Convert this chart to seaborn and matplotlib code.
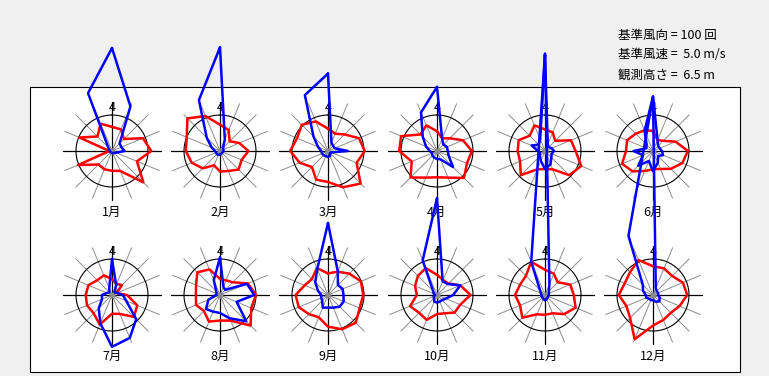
import numpy as np
import pandas as pd
import matplotlib
matplotlib.use("Agg")
import matplotlib.pyplot as plt
from matplotlib.patches import Rectangle
import seaborn as sns

sns.set_theme(style="white")
plt.rcParams["font.family"] = ["Noto Sans CJK JP", "DejaVu Sans"]

# ---- data ----
directions = ["N", "NNE", "NE", "ENE", "E", "ESE", "SE", "SSE",
              "S", "SSW", "SW", "WSW", "W", "WNW", "NW", "NNW"]
months = ["1月", "2月", "3月", "4月", "5月", "6月",
          "7月", "8月", "9月", "10月", "11月", "12月"]
ring_label = "4"
info_lines = ["基準風向 = 100 回", "基準風速 =  5.0 m/s", "観測高さ =  6.5 m"]

# red: wind speed (relative to reference circle), blue: frequency
speed_01 = [0.67, 0.65, 0.47, 0.93, 1.09, 0.75, 1.23, 0.60, 0.55, 0.55, 0.53, 1.02, 0.08, 0.98, 0.57, 0.82]
freq_01 = [2.86, 1.34, 0.30, 0.28, 0.35, 0.12, 0.08, 0.06, 0.06, 0.05, 0.05, 0.05, 0.06, 0.08, 0.15, 1.74]
speed_02 = [0.73, 0.63, 0.38, 0.58, 0.79, 0.65, 0.73, 0.60, 0.57, 0.43, 0.68, 0.85, 0.95, 1.00, 1.28, 1.05]
freq_02 = [2.88, 0.35, 0.12, 0.10, 0.10, 0.08, 0.08, 0.08, 0.10, 0.12, 0.12, 0.12, 0.14, 0.25, 0.52, 1.53]
speed_03 = [0.62, 0.52, 0.65, 0.93, 1.02, 0.86, 1.28, 1.09, 0.86, 0.86, 0.63, 0.85, 1.05, 0.93, 1.03, 0.89]
freq_03 = [2.15, 0.25, 0.20, 0.20, 0.55, 0.10, 0.08, 0.15, 0.17, 0.15, 0.17, 0.18, 0.19, 0.30, 0.57, 1.68]
speed_04 = [0.55, 0.38, 0.50, 0.78, 0.97, 0.90, 1.06, 0.80, 0.73, 0.80, 1.04, 0.76, 1.05, 1.08, 0.65, 0.77]
freq_04 = [1.78, 0.37, 0.25, 0.30, 0.30, 0.35, 0.63, 0.25, 0.22, 0.20, 0.18, 0.15, 0.20, 0.33, 0.56, 1.16]
speed_05 = [0.60, 0.56, 0.40, 0.78, 0.85, 1.09, 0.95, 0.55, 0.50, 0.55, 0.95, 0.75, 0.76, 0.79, 0.60, 0.77]
freq_05 = [2.67, 0.20, 0.15, 0.20, 0.25, 0.20, 0.25, 0.40, 0.50, 0.30, 0.20, 0.15, 0.20, 0.40, 0.25, 0.35]
speed_06 = [0.56, 0.33, 0.40, 0.68, 0.97, 0.88, 0.70, 0.54, 0.51, 0.60, 0.80, 0.93, 0.75, 0.78, 0.68, 0.62]
freq_06 = [1.51, 0.33, 0.20, 0.20, 0.25, 0.30, 0.20, 0.35, 0.56, 0.30, 0.58, 0.30, 0.54, 0.20, 0.25, 0.61]
speed_07 = [0.44, 0.33, 0.39, 0.14, 0.42, 0.76, 0.86, 0.57, 0.52, 0.89, 0.72, 0.75, 0.73, 0.71, 0.58, 0.59]
freq_07 = [1.00, 0.30, 0.10, 0.15, 0.30, 0.43, 0.95, 1.29, 1.44, 0.85, 0.52, 0.30, 0.28, 0.15, 0.10, 0.20]
speed_08 = [0.45, 0.44, 0.50, 0.84, 1.00, 0.94, 1.20, 0.77, 0.71, 0.80, 0.63, 0.72, 0.67, 0.72, 0.89, 0.77]
freq_08 = [1.04, 0.25, 0.20, 0.81, 0.95, 0.50, 1.03, 0.70, 0.50, 0.50, 0.55, 0.35, 0.11, 0.10, 0.15, 0.45]
speed_09 = [0.60, 0.70, 0.84, 0.99, 0.98, 0.95, 1.09, 1.03, 0.88, 0.67, 0.75, 0.88, 0.90, 0.70, 0.63, 0.81]
freq_09 = [2.00, 0.71, 0.39, 0.44, 0.43, 0.47, 0.46, 0.38, 0.35, 0.38, 0.23, 0.20, 0.19, 0.30, 0.50, 0.78]
speed_10 = [0.56, 0.45, 0.45, 0.70, 0.93, 0.70, 0.69, 0.55, 0.53, 0.75, 0.70, 0.81, 0.56, 0.66, 0.75, 0.81]
freq_10 = [2.69, 0.41, 0.43, 0.70, 0.45, 0.26, 0.20, 0.20, 0.21, 0.20, 0.12, 0.10, 0.05, 0.10, 0.15, 1.04]
speed_11 = [0.70, 0.64, 0.50, 0.76, 0.80, 0.92, 0.75, 0.55, 0.55, 0.58, 0.89, 0.75, 0.83, 0.75, 0.75, 1.00]
freq_11 = [6.70, 0.32, 0.15, 0.12, 0.10, 0.10, 0.10, 0.12, 0.15, 0.12, 0.10, 0.10, 0.10, 0.12, 0.20, 1.00]
speed_12 = [0.80, 0.80, 0.75, 0.90, 0.95, 0.80, 0.70, 0.75, 0.85, 1.33, 0.90, 0.80, 0.95, 0.85, 0.90, 1.05]
freq_12 = [5.50, 0.20, 0.15, 0.15, 0.15, 0.20, 0.25, 0.20, 0.15, 0.15, 0.15, 0.20, 0.20, 0.30, 0.40, 1.78]

speeds = [speed_01, speed_02, speed_03, speed_04, speed_05, speed_06,
          speed_07, speed_08, speed_09, speed_10, speed_11, speed_12]
freqs = [freq_01, freq_02, freq_03, freq_04, freq_05, freq_06,
         freq_07, freq_08, freq_09, freq_10, freq_11, freq_12]

# ---- layout ----
W, H = 769, 376
fig = plt.figure(figsize=(W / 100, H / 100), dpi=100, facecolor="#f0f0f0")
fig.patches.append(Rectangle((30 / W, 1 - 372 / H), 710 / W, 285 / H,
                             transform=fig.transFigure, facecolor="white",
                             edgecolor="black", lw=0.8, zorder=-5))

col_x = [112, 220, 328, 437, 545, 653]
row_y = [151, 295]
unit = 36.0
rmax = 1.45
Rpx = rmax * unit

theta = np.deg2rad(np.arange(16) * 22.5)

for i, m in enumerate(months):
    cx = col_x[i % 6]
    cy = row_y[i // 6]
    ax = fig.add_axes([(cx - Rpx) / W, 1 - (cy + Rpx) / H, 2 * Rpx / W, 2 * Rpx / H],
                      projection="polar")
    ax.set_theta_zero_location("N")
    ax.set_theta_direction(-1)
    # spokes
    for k in range(16):
        if k % 4:
            ax.plot([theta[k], theta[k]], [0, 1.42], color="#8c8c8c", lw=0.7, zorder=1)
    for k in range(0, 16, 4):
        ax.plot([theta[k], theta[k]], [0, 1.36], color="black", lw=0.9, zorder=2)
    circ = np.linspace(0, 2 * np.pi, 361)
    ax.plot(circ, np.ones_like(circ), color="black", lw=0.8, zorder=2)
    ax.plot([0], [0], "o", ms=3.5, color="#8c8c8c", zorder=2)

    df_s = pd.DataFrame({"theta": np.append(theta, theta[0]),
                         "r": np.append(speeds[i], speeds[i][0])})
    df_f = pd.DataFrame({"theta": np.append(theta, theta[0]),
                         "r": np.append(freqs[i], freqs[i][0])})
    sns.lineplot(data=df_s, x="theta", y="r", sort=False, estimator=None,
                 color="#ff0000", lw=1.8, ax=ax, zorder=3)
    sns.lineplot(data=df_f, x="theta", y="r", sort=False, estimator=None,
                 color="#0000ff", lw=1.8, ax=ax, zorder=4)
    for ln in ax.lines:
        ln.set_clip_on(False)

    ax.text(0, 1.2, ring_label, ha="center", va="center", fontsize=9, color="black")
    ax.text(np.pi, 1.72, m, ha="center", va="center", fontsize=9, color="black")
    ax.set_ylim(0, rmax)
    ax.set_axis_off()

for j, t in enumerate(info_lines):
    fig.text(618 / W, 1 - (35 + 20 * j) / H, t, ha="left", va="center",
             fontsize=9, color="black")

fig.savefig("out.png", dpi=100, facecolor=fig.get_facecolor())
